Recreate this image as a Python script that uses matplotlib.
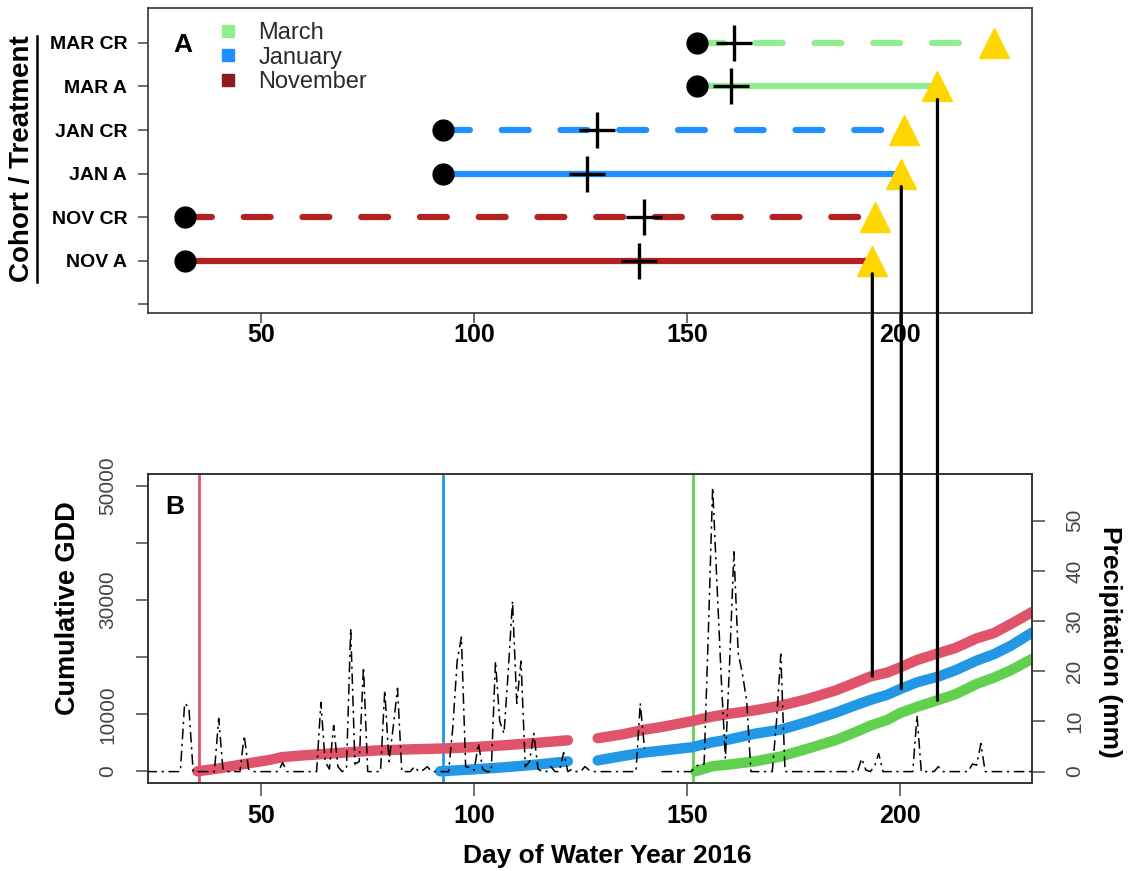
import numpy as np
import matplotlib
matplotlib.use("Agg")
import matplotlib.pyplot as plt
from matplotlib.lines import Line2D
from matplotlib.patches import ConnectionPatch

plt.rcParams["font.family"] = ["Liberation Sans", "DejaVu Sans"]

# ---------------- Panel A: cohort timelines ----------------
treatments = ["NOV A", "NOV CR", "JAN A", "JAN CR", "MAR A", "MAR CR"]
cohort = ["November", "November", "January", "January", "March", "March"]
sow_day = [32.2, 32.2, 92.7, 92.7, 152.3, 152.3]
mid_day = [138.8, 139.8, 126.5, 128.9, 160.4, 161.0]
end_day = [193.5, 194.2, 200.3, 201.0, 208.8, 222.0]

cohort_colors = {"November": "#B22222", "January": "#1E90FF", "March": "#90EE90"}
legend_labels = ["March", "January", "November"]
legend_colors = ["#90EE90", "#1E90FF", "#8E1B1B"]

# ---------------- Panel B: cumulative GDD ----------------
gdd_start = [35.3, 92.7, 151.3]  # Nov, Jan, Mar

nov_days = [35, 40, 47, 52, 55, 60, 65, 70, 77, 85, 93, 100, 107, 115, 122, 125.5,
            129, 135, 140, 145, 151, 156, 160, 166, 172, 178, 185, 190, 193, 197,
            200, 204, 209, 213, 218, 222, 226, 231]
nov_gdd = [0, 500, 1400, 2000, 2500, 2800, 3050, 3300, 3650, 3850, 4000, 4250, 4560,
           5000, 5440, np.nan, 5800, 6500, 7300, 7900, 8770, 9600, 10100, 10700,
           11500, 12600, 14200, 15700, 16600, 17300, 18200, 19500, 20700, 21600,
           23300, 24200, 25800, 27900]

jan_days = [92, 100, 107, 115, 122, 125.5, 129, 135, 140, 145, 151, 156, 160, 166,
            172, 178, 185, 190, 193, 197, 200, 204, 209, 213, 218, 222, 226, 231]
jan_gdd = [0, 350, 700, 1200, 1750, np.nan, 1900, 2700, 3300, 3700, 4200, 5100, 5600,
           6600, 7300, 8600, 10300, 11700, 12500, 13400, 14400, 15600, 16600, 17700,
           19400, 20500, 22000, 24300]

mar_days = [152, 156, 160, 166, 172, 178, 185, 190, 193, 197, 200, 204, 209, 213,
            218, 222, 226, 231]
mar_gdd = [0, 900, 1200, 1750, 2600, 3900, 5500, 7000, 8000, 9000, 10200, 11300,
           12500, 13500, 15300, 16400, 17700, 19700]

gdd_colors = ["#DF536B", "#2297E6", "#61D04F"]

# daily precipitation (mm); days not listed had no rain
precip_first_day, precip_last_day = 23, 232
rain_days = [32, 33, 40, 41, 46, 47, 55, 64, 65, 66, 67, 68, 70, 71, 72, 73, 74,
             79, 80, 81, 82, 86, 88, 89, 95, 96, 97, 98, 99, 100, 101, 102,
             105, 106, 107, 108, 109, 110, 111, 112, 113, 114, 115, 118, 121, 123,
             126, 127, 139, 140, 152, 153, 154, 155, 156, 157, 158, 159, 160, 161,
             162, 163, 164, 171, 172, 191, 192, 194, 195, 204, 209, 217, 218, 219]
rain_mm = [13.6, 12.8, 10.6, 0.5, 7.2, 0.5, 1.8, 13.8, 2.0, 0.5, 9.2, 1.0, 0.5, 28.5,
           1.5, 2.0, 20.8, 16.2, 2.0, 9.0, 16.6, 1.0, 0.3, 1.0, 9.0, 22.0, 26.8, 1.0,
           0.8, 0.3, 5.6, 0.5, 22.0, 10.0, 7.6, 20.0, 34.0, 13.6, 22.0, 1.0, 2.0,
           7.6, 0.5, 1.0, 3.8, 0.5, 1.0, 0.3, 13.6, 4.6, 1.0, 1.5, 1.5, 28.0, 56.6,
           38.0, 19.0, 2.6, 22.0, 43.8, 23.6, 19.5, 14.0, 10.0, 23.4, 2.6, 0.3, 1.0,
           3.6, 11.2, 1.0, 1.5, 1.3, 5.6]
missing_days = [141, 142, 143]

precip_days = np.arange(precip_first_day, precip_last_day + 1)
precip = np.zeros(precip_days.size)
precip[np.array(rain_days) - precip_first_day] = rain_mm
precip[np.array(missing_days) - precip_first_day] = np.nan

# ---------------- figure ----------------
W, H = 1128, 871
fig = plt.figure(figsize=(W / 100, H / 100), dpi=100)
ax1 = fig.add_axes([148 / W, 1 - 313 / H, 884 / W, 305 / H])
ax2 = fig.add_axes([148 / W, 1 - 783 / H, 884 / W, 309 / H])
ax3 = ax2.twinx()

xlim = (23.4, 231.0)
spine_col = "#333333"
tick_col = "#555555"

for ax in (ax1, ax2, ax3):
    for s in ax.spines.values():
        s.set_color(spine_col)
        s.set_linewidth(1.2)

# panel A
rows = np.arange(1, len(treatments) + 1)
for y, t, c, s0, m, e in zip(rows, treatments, cohort, sow_day, mid_day, end_day):
    col = cohort_colors[c]
    if t.endswith("CR"):
        ax1.plot([s0, e], [y, y], color=col, lw=4.5, dash_capstyle="round",
                 linestyle=(0, (4.3, 5.1)), zorder=2)
    else:
        ax1.plot([s0, e], [y, y], color=col, lw=4.5, solid_capstyle="butt", zorder=2)
    ax1.plot(s0, y, "o", color="black", ms=15, zorder=4)
    ax1.plot(m, y, "+", color="black", ms=26, mew=2.4, zorder=4)
    ax1.plot(e, y, "^", color="#FFD700", ms=21, mec="#FFD700", zorder=5)

ax1.set_xlim(*xlim)
ax1.set_ylim(-0.2, 6.8)
ax1.set_yticks(np.arange(0, 7))
ax1.set_yticklabels([""] + treatments, fontsize=14, fontweight="bold")
ax1.set_xticks([50, 100, 150, 200])
ax1.set_xticklabels(["50", "100", "150", "200"], fontsize=18, fontweight="bold")
ax1.tick_params(axis="x", length=7, width=1.2, color=tick_col, pad=0.5)
ax1.tick_params(axis="y", length=7, width=1.2, color=tick_col, pad=8)
ax1.text(0.0396, 0.879, "A", transform=ax1.transAxes, fontsize=19,
         fontweight="bold", ha="center", va="center")

handles = [Line2D([], [], linestyle="none", marker="s", ms=8, color=c)
           for c in legend_colors]
leg = ax1.legend(handles, legend_labels, loc="upper left",
                 bbox_to_anchor=(0.069, 0.978), fontsize=17, frameon=True,
                 labelspacing=0.12, handletextpad=0.8, borderpad=0.3,
                 handlelength=1.0, borderaxespad=0)
leg.get_frame().set_facecolor("white")
leg.get_frame().set_edgecolor("none")
leg.get_frame().set_alpha(0.9)
for txt in leg.get_texts():
    txt.set_color("#2a2a2a")

# panel B
for d, v, c in zip([nov_days, jan_days, mar_days], [nov_gdd, jan_gdd, mar_gdd], gdd_colors):
    ax2.plot(d, v, color=c, lw=7.5, solid_capstyle="round", solid_joinstyle="round",
             zorder=2)
for d, c in zip(gdd_start, gdd_colors):
    ax2.axvline(d, color=c, lw=2.0, zorder=1)

ax2.set_xlim(*xlim)
ax2.set_ylim(-2050, 52100)
ax2.set_yticks(np.arange(0, 50001, 10000))
ax2.set_yticklabels(["0", "10000", "", "30000", "", "50000"], fontsize=15,
                    color="#444444", rotation=90, va="center")
ax2.set_xticks([50, 100, 150, 200])
ax2.set_xticklabels(["50", "100", "150", "200"], fontsize=18, fontweight="bold")
ax2.tick_params(axis="x", length=9, width=1.2, color=tick_col, pad=6)
ax2.tick_params(axis="y", length=9, width=1.2, color=tick_col, pad=13)
ax2.text(0.0305, 0.893, "B", transform=ax2.transAxes, fontsize=19,
         fontweight="bold", ha="center", va="center")

ax3.plot(precip_days, precip, color="black", lw=1.1,
         linestyle=(0, (7, 3, 1.5, 3)), zorder=3)
ax3.set_xlim(*xlim)
ax3.set_ylim(-2.27, 59.3)
ax3.set_yticks(np.arange(0, 51, 10))
ax3.set_yticklabels([str(v) for v in range(0, 51, 10)], fontsize=15,
                    color="#444444", rotation=90, va="center")
ax3.tick_params(axis="y", length=9, width=1.2, color=tick_col, pad=15)

# connect the solid-treatment harvest dates to their cohort GDD curve
gdd_series = {"November": (nov_days, nov_gdd), "January": (jan_days, jan_gdd),
              "March": (mar_days, mar_gdd)}
for y, t, c, e in zip(rows, treatments, cohort, end_day):
    if t.endswith(" A"):
        d, v = gdd_series[c]
        d = np.array(d, float)
        v = np.array(v, float)
        ok = ~np.isnan(v)
        g = np.interp(e, d[ok], v[ok])
        cp = ConnectionPatch(xyA=(e, y - 0.3), coordsA="data", axesA=ax1,
                             xyB=(e, g), coordsB="data", axesB=ax2,
                             color="black", lw=2.3, zorder=3)
        fig.add_artist(cp)

# axis titles
fig.text(22 / W, 1 - 159 / H, "Cohort / Treatment", rotation=90, fontsize=20,
         fontweight="bold", ha="center", va="center")
fig.add_artist(Line2D([37 / W, 37 / W], [1 - 36 / H, 1 - 282 / H],
                      transform=fig.transFigure, color="black", lw=1.8))
fig.text(68 / W, 1 - 608 / H, "Cumulative GDD", rotation=90, fontsize=19.5,
         fontweight="bold", ha="center", va="center")
fig.text(1110 / W, 1 - 642 / H, "Precipitation (mm)", rotation=-90, fontsize=19,
         fontweight="bold", ha="center", va="center")
fig.text(607 / W, 1 - 856 / H, "Day of Water Year 2016", fontsize=19,
         fontweight="bold", ha="center", va="center")

fig.savefig("out.png", dpi=100)
